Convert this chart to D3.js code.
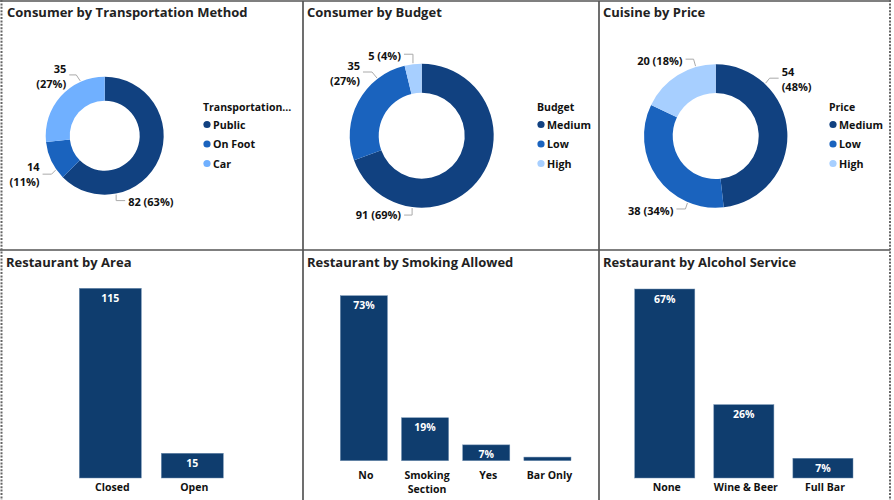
<!DOCTYPE html>
<html>
<head>
<meta charset="utf-8">
<script src="https://cdnjs.cloudflare.com/ajax/libs/d3/7.8.5/d3.min.js"></script>
<style>
  html, body { margin: 0; padding: 0; background: #fff; }
  text { font-family: "Open Sans", sans-serif; font-weight: 700; fill: #111; }
  .title { font-size: 13px; fill: #222; }
  .lbl { font-size: 11px; }
  .legend-item { font-size: 10.7px; }
  .tick-label { font-size: 10.5px; }
  .legend-title { font-size: 10.5px; }
  .bar-label { font-size: 10.5px; fill: #fff; }
</style>
</head>
<body>
<div id="chart"></div>
<script>
// consumer by transportation
var transportNames = ['Public', 'On Foot', 'Car'];
var transportValues = [82, 14, 35];
var transportPct = ['63%', '11%', '27%'];
// consumer by budget
var budgetNames = ['Medium', 'Low', 'High'];
var budgetValues = [91, 35, 5];
var budgetPct = ['69%', '27%', '4%'];
// cuisine by price
var priceNames = ['Medium', 'Low', 'High'];
var priceValues = [54, 38, 20];
var pricePct = ['48%', '34%', '18%'];
// restaurant bars
var areaNames = ['Closed', 'Open'];
var areaValues = [115, 15];
var smokingNames = ['No', 'Smoking Section', 'Yes', 'Bar Only'];
var smokingValues = [73, 19, 7, 1.6];
var smokingLabels = ['73%', '19%', '7%', ''];
var alcoholNames = ['None', 'Wine & Beer', 'Full Bar'];
var alcoholValues = [67, 26, 7];
var alcoholLabels = ['67%', '26%', '7%'];

var DARK = '#114180', MID = '#1a63be', CAR = '#70b0ff', PALE = '#a7cfff', BAR = '#0f3d6e';

var svg = d3.select('#chart').append('svg').attr('width', 894).attr('height', 500);

// frame lines between the visuals
var solid = [[0, 1, 890, 1], [0, 250, 890, 250], [303, 1, 303, 500], [599, 1, 599, 500]];
svg.selectAll('line.frame').data(solid).enter().append('line')
  .attr('class', 'frame')
  .attr('x1', function(d) { return d[0]; }).attr('y1', function(d) { return d[1]; })
  .attr('x2', function(d) { return d[2]; }).attr('y2', function(d) { return d[3]; })
  .attr('stroke', '#555').attr('stroke-width', 1.7);
[1.5, 890].forEach(function(x) {
  svg.append('line').attr('x1', x).attr('x2', x).attr('y1', 0).attr('y2', 500)
    .attr('stroke', '#666').attr('stroke-width', 2).attr('stroke-dasharray', '2 1.4');
});

function title(x, y, s) {
  svg.append('text').attr('class', 'title').attr('x', x).attr('y', y).text(s);
}
title(7, 17, 'Consumer by Transportation Method');
title(307, 17, 'Consumer by Budget');
title(603, 17, 'Cuisine by Price');
title(6, 267, 'Restaurant by Area');
title(307, 267, 'Restaurant by Smoking Allowed');
title(603, 267, 'Restaurant by Alcohol Service');

function donut(o) {
  var g = svg.append('g').attr('transform', 'translate(' + o.cx + ',' + o.cy + ')');
  var arc = d3.arc().innerRadius(o.inner).outerRadius(o.outer);
  var arcs = d3.pie().sort(null)(o.values);
  var color = d3.scaleOrdinal().domain(o.names).range(o.colors);

  g.selectAll('path').data(arcs).enter().append('path')
    .attr('d', arc)
    .attr('fill', function(d, i) { return color(o.names[i]); });

  // leader lines, started from the slice's own angles
  var line = d3.line();
  arcs.forEach(function(a, i) {
    var l = o.leaders[i];
    var ang = a.startAngle + (a.endAngle - a.startAngle) * l.at;
    var r = o.outer + 1;
    var p0 = [Math.sin(ang) * r, -Math.cos(ang) * r];
    var p1 = [p0[0] + l.elbow[0], p0[1] + l.elbow[1]];
    var p2 = [p1[0] + l.run, p1[1]];
    g.append('path').attr('d', line([p0, p1, p2]))
      .attr('fill', 'none').attr('stroke', '#aaa').attr('stroke-width', 1);

    var left = l.run > 0;
    var tx = p2[0] + (left ? 3 : -3);
    var text = g.append('text').attr('class', 'lbl')
      .attr('text-anchor', left ? 'start' : 'end');
    var count = String(o.values[i]), pct = '(' + o.pct[i] + ')';
    if (l.wrap) {
      text.append('tspan').attr('x', tx).attr('y', p2[1] + l.dy).text(count);
      text.append('tspan').attr('x', tx).attr('y', p2[1] + l.dy + 15).text(pct);
    } else {
      text.attr('x', tx).attr('y', p2[1] + l.dy).text(count + ' ' + pct);
    }
  });

  // legend
  var lg = svg.append('g').attr('transform', 'translate(' + o.legendX + ',0)');
  lg.append('text').attr('class', 'legend-title').attr('y', 111).text(o.legendTitle);
  var y = d3.scalePoint().domain(o.names).range([124.5, 163.5]);
  o.names.forEach(function(n, i) {
    lg.append('circle').attr('cx', 4).attr('cy', y(n)).attr('r', 3.6).attr('fill', color(n));
    lg.append('text').attr('class', 'legend-item').attr('x', 10).attr('y', y(n) + 4).text(n);
  });
}

donut({
  cx: 104.7, cy: 135.7, outer: 59, inner: 35,
  names: transportNames, values: transportValues, pct: transportPct,
  colors: [DARK, MID, CAR], legendX: 203, legendTitle: 'Transportation...',
  leaders: [
    { at: 0.75, elbow: [0, 6], run: 9, dy: 5 },
    { at: 0.25, elbow: [-4, 4], run: -9, dy: -3, wrap: true },
    { at: 0.75, elbow: [-4, -6], run: -7, dy: -2, wrap: true }
  ]
});
donut({
  cx: 421.7, cy: 135.7, outer: 72, inner: 43,
  names: budgetNames, values: budgetValues, pct: budgetPct,
  colors: [DARK, MID, PALE], legendX: 537, legendTitle: 'Budget',
  leaders: [
    { at: 0.75, elbow: [0, 7], run: -8, dy: 4 },
    { at: 0.75, elbow: [-5, -6], run: -9, dy: -2, wrap: true },
    { at: 0.5, elbow: [0, -9], run: -9, dy: 6 }
  ]
});
donut({
  cx: 715.7, cy: 136, outer: 71.7, inner: 43,
  names: priceNames, values: priceValues, pct: pricePct,
  colors: [DARK, MID, PALE], legendX: 829, legendTitle: 'Price',
  leaders: [
    { at: 0.25, elbow: [4, -5], run: 9, dy: -2, wrap: true },
    { at: 0.24, elbow: [-2, 6], run: -9, dy: 6 },
    { at: 0.75, elbow: [-2, -7], run: -8, dy: 6 }
  ]
});

function bars(o) {
  var x = d3.scaleBand().domain(o.names).range(o.range).paddingInner(o.padding).paddingOuter(0);
  var y = d3.scaleLinear().domain([0, o.max]).range([o.base, o.top]);
  var g = svg.append('g');

  g.selectAll('rect').data(o.values).enter().append('rect')
    .attr('x', function(d, i) { return x(o.names[i]); })
    .attr('y', function(d) { return y(d); })
    .attr('width', x.bandwidth())
    .attr('height', function(d) { return o.base - y(d); })
    .attr('fill', BAR)
    .attr('stroke', '#6f8eb0')
    .attr('stroke-width', 0.5);

  g.selectAll('text.bar-label').data(o.values).enter().append('text')
    .attr('class', 'bar-label')
    .attr('text-anchor', 'middle')
    .attr('x', function(d, i) { return x(o.names[i]) + x.bandwidth() / 2; })
    .attr('y', function(d) { return y(d) + 13.5; })
    .text(function(d, i) { return o.labels[i]; });

  var axis = g.append('g').attr('transform', 'translate(2,' + o.base + ')')
    .call(d3.axisBottom(x).tickSize(0).tickPadding(o.tickPad));
  axis.select('.domain').remove();
  axis.selectAll('text').attr('class', 'tick-label').attr('fill', null).each(function(d) {
    var words = o.wrap && o.wrap.indexOf(d) >= 0 ? d.split(' ') : [d];
    var t = d3.select(this).text(null);
    words.forEach(function(w, i) {
      t.append('tspan').attr('x', 0).attr('dy', i ? 14 : '0.71em').text(w);
    });
  });
}

bars({
  names: areaNames, values: areaValues, labels: areaValues,
  range: [79.3, 223.3], padding: 0.244, max: 115, base: 478, top: 288.3, tickPad: 6
});
bars({
  names: smokingNames, values: smokingValues, labels: smokingLabels,
  range: [340.3, 571], padding: 0.23, max: 73, base: 460.7, top: 295.7, tickPad: 11,
  wrap: ['Smoking Section']
});
bars({
  names: alcoholNames, values: alcoholValues, labels: alcoholLabels,
  range: [634.7, 853], padding: 0.24, max: 67, base: 478, top: 289, tickPad: 6
});
</script>
</body>
</html>
